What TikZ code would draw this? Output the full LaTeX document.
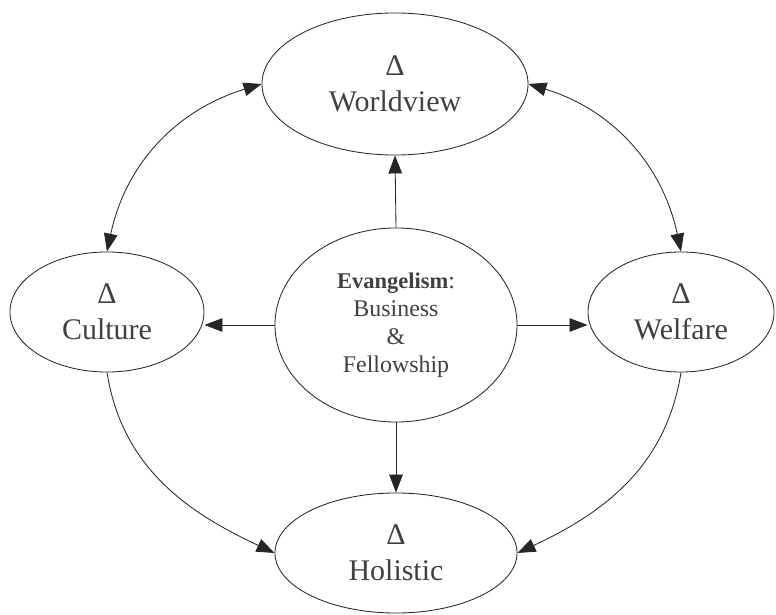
\documentclass[tikz,border=0pt]{standalone}
\usepackage{fontspec}
\setmainfont{Liberation Serif}
\usetikzlibrary{shapes.geometric,arrows.meta}

\tikzset{
  bubble/.style={draw, ellipse, inner sep=0pt, align=center, text=black!75},
  big/.style={font=\fontsize{21.3}{25.6}\selectfont},
  small/.style={font=\fontsize{17}{20}\selectfont},
}

\begin{document}
\begin{tikzpicture}[x=0.025cm, y=0.025cm, line width=0.6pt, black!85,
  >={Triangle[length=0.45cm, width=0.34cm]}]
\useasboundingbox (0,0) rectangle (776,-615);
\node [bubble, big, minimum width=6.65cm, minimum height=3.55cm] (worldview) at (395,-84) {Δ\\Worldview};
\node [bubble, big, minimum width=4.85cm, minimum height=3cm] (culture) at (107,-312) {Δ\\Culture};
\node [bubble, big, minimum width=4.65cm, minimum height=3cm] (welfare) at (681,-312) {Δ\\Welfare};
\node [bubble, big, minimum width=6.05cm, minimum height=3cm] (holistic) at (396,-553) {Δ\\Holistic};
\node [bubble, small, minimum width=6.05cm, minimum height=4.85cm] (center) at (396,-325)
  {{\fontsize{16}{20}\selectfont\bfseries Evangelism}:\\Business\\\&\\Fellowship};
\draw [->] (center.north) -- (worldview.south);
\draw [->] (center.south) -- (holistic.north);
\draw [->] (center.west) -- (center.west -| culture.east);
\draw [->] (center.east) -- (center.east -| welfare.west);
\draw [<->] (culture.north) to [out=78, in=197] (worldview.west);
\draw [<->] (welfare.north) to [out=102, in=-17] (worldview.east);
\draw [->] (culture.south) to [out=-81, in=155] (holistic.west);
\draw [->] (welfare.south) to [out=-99, in=25] (holistic.east);
\end{tikzpicture}
\end{document}
